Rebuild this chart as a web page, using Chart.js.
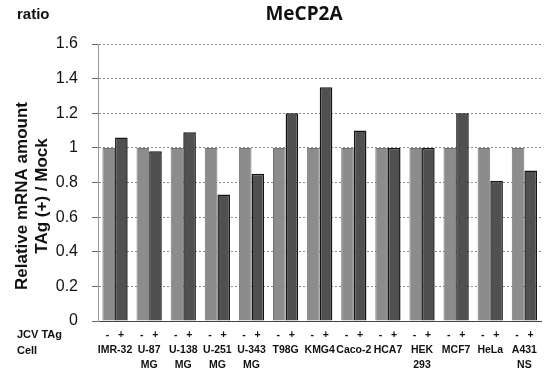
<!DOCTYPE html>
<html>
<head>
<meta charset="utf-8">
<script src="https://cdn.jsdelivr.net/npm/chart.js@4.4.1/dist/chart.umd.min.js"></script>
<style>
  html, body { margin: 0; padding: 0; background: #fff; }
  #wrap { width: 544px; height: 371px; }
</style>
</head>
<body>
<div id="wrap"><canvas id="grafico"></canvas></div>
<script>
// cell lines (multi-line names)
var cells = [['IMR-32'], ['U-87', 'MG'], ['U-138', 'MG'], ['U-251', 'MG'], ['U-343', 'MG'], ['T98G'], ['KMG4'],
             ['Caco-2'], ['HCA7'], ['HEK', '293'], ['MCF7'], ['HeLa'], ['A431', 'NS']];
var mockData = [1, 1, 1, 1, 1, 1, 1, 1, 1, 1, 1, 1, 1];          // JCV TAg -
var tagData = [1.06, 0.98, 1.09, 0.73, 0.85, 1.2, 1.35, 1.1, 1.0, 1.0, 1.2, 0.81, 0.87]; // JCV TAg +
var yTicks = [0, 0.2, 0.4, 0.6, 0.8, 1, 1.2, 1.4, 1.6];

var etiquetas = cells.map(function (c) { return ['-   +'].concat(c); });

// textos fijos: ratio, titulo, titulo del eje y, JCV TAg / Cell
var textos = {
    id: 'textos',
    afterDraw: function (chart) {
        var ctx = chart.ctx;
        var b = chart.chartArea.bottom;
        ctx.save();
        ctx.fillStyle = '#111';
        ctx.textBaseline = 'middle';
        ctx.font = 'bold 15px "Liberation Sans", Arial, sans-serif';
        ctx.textAlign = 'left';
        ctx.fillText('ratio', 17, 15);
        ctx.font = 'bold 11px "Liberation Sans", Arial, sans-serif';
        ctx.fillText('JCV TAg', 17, b + 14);
        ctx.fillText('Cell', 17, b + 30);
        ctx.font = 'bold 19px "Open Sans", "Liberation Sans", sans-serif';
        ctx.textAlign = 'center';
        ctx.fillText('MeCP2A', 304, 15);
        // titulo eje y
        ctx.translate(0, 196);
        ctx.rotate(-Math.PI / 2);
        ctx.font = 'bold 17px "Liberation Sans", Arial, sans-serif';
        ctx.fillText('Relative mRNA amount', 0, 22);
        ctx.fillText('TAg (+) / Mock', 0, 42);
        ctx.restore();
    }
};

var ctx1 = document.getElementById('grafico').getContext('2d');
var grafico = new Chart(ctx1, {
    type: 'bar',
    data: {
        labels: etiquetas,
        datasets: [{
            label: 'JCV TAg -',
            data: mockData,
            backgroundColor: '#8c8c8c',
            borderColor: '#727272',
            borderWidth: 1,
            categoryPercentage: 0.74,
            barPercentage: 1.0
        }, {
            label: 'JCV TAg +',
            data: tagData,
            backgroundColor: '#505050',
            borderColor: '#151515',
            borderWidth: 1.5,
            categoryPercentage: 0.74,
            barPercentage: 1.0
        }]
    },
    options: {
        responsive: true,
        maintainAspectRatio: false,
        animation: false,
        layout: { padding: { top: 44, right: 2, left: 0, bottom: 0 } },
        plugins: {
            legend: { display: false },
            tooltip: { enabled: false }
        },
        scales: {
            x: {
                grid: { display: false, drawTicks: false, tickLength: 0 },
                border: { display: true, color: '#444', width: 1 },
                ticks: {
                    autoSkip: false,
                    maxRotation: 0,
                    minRotation: 0,
                    padding: 7,
                    color: '#111',
                    font: { family: '"Liberation Sans", Arial, sans-serif', size: 10.5, weight: 'bold', lineHeight: 1.42 }
                },
                afterFit: function (scale) { scale.height = 50; }
            },
            y: {
                min: 0,
                max: 1.6,
                afterBuildTicks: function (scale) {
                    scale.ticks = yTicks.map(function (v) { return { value: v }; });
                },
                grid: {
                    color: '#8a8a8a',
                    lineWidth: 1,
                    tickLength: 6,
                    tickColor: '#666'
                },
                border: { display: true, dash: [2, 2], color: '#999' },
                ticks: {
                    padding: 14,
                    color: '#111',
                    font: { family: '"Liberation Sans", Arial, sans-serif', size: 16 },
                    callback: function (v) { return String(Math.round(v * 10) / 10); }
                },
                afterFit: function (scale) { scale.width = 98; }
            }
        }
    },
    plugins: [textos]
});
</script>
</body>
</html>
